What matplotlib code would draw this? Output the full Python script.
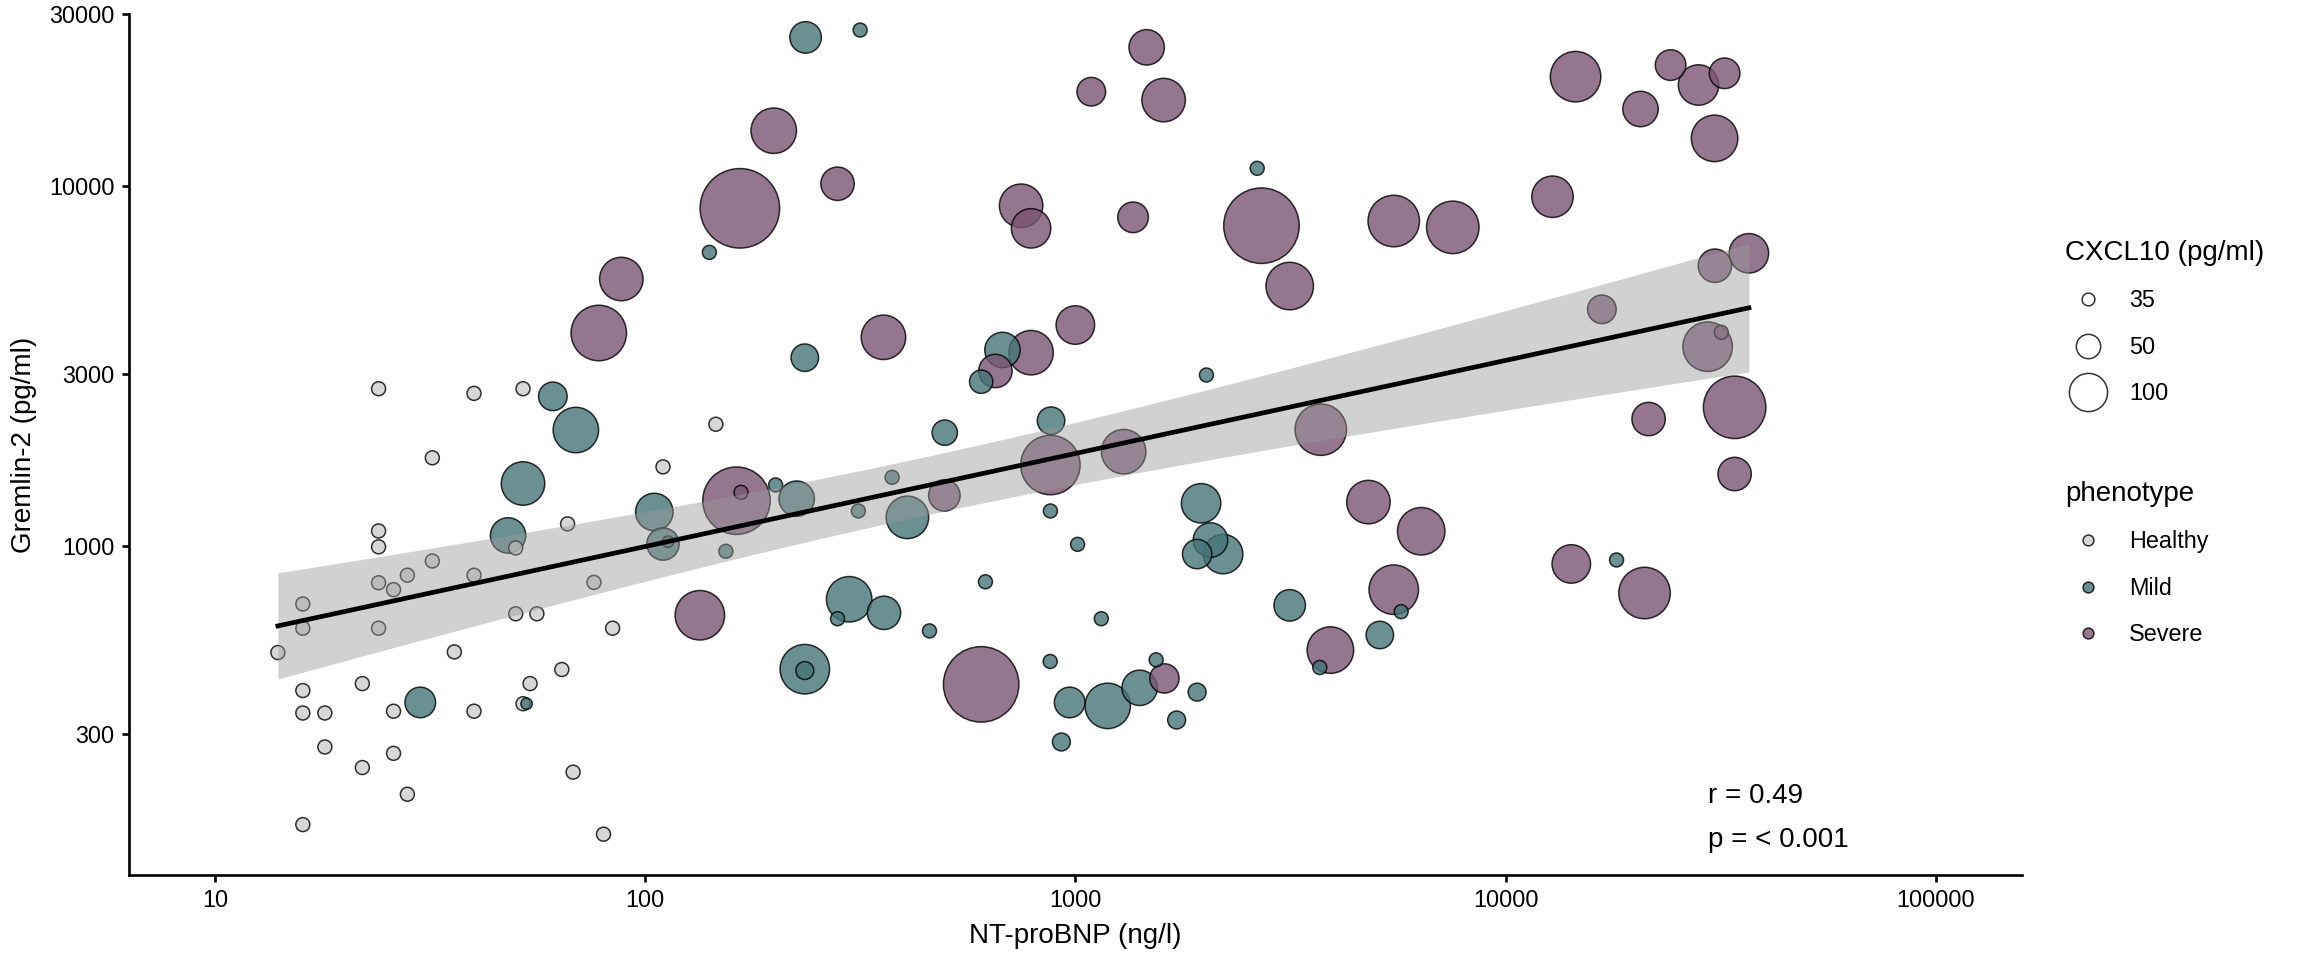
import numpy as np
import matplotlib.pyplot as plt
from matplotlib.lines import Line2D
from matplotlib.ticker import NullLocator

plt.rcParams['font.family'] = ['Liberation Sans', 'DejaVu Sans']

DPI = 100
EDGE_W = 1.1

# NT-proBNP (ng/l), Gremlin-2 (pg/ml) and CXCL10 (pg/ml) per phenotype
healthy_ntprobnp = [24, 40, 52, 32, 66, 24, 24, 50, 32, 28, 40, 24, 26, 16, 76, 16, 24, 50, 56, 84,
                    14, 36, 64, 16, 22, 54, 16, 18, 26, 40, 52, 18, 26, 22, 68, 28, 16, 80, 146, 110]
healthy_gremlin2 = [2730, 2650, 2730, 1755, 1150, 1099, 993, 986, 907, 828, 828, 789, 755, 689, 791, 590, 590, 647, 647, 590,
                    505, 507, 453, 396, 414, 414, 343, 343, 347, 347, 364, 276, 265, 242, 235, 204, 168, 158, 2175, 1656]
healthy_cxcl10 = [36] * len(healthy_ntprobnp)

mild_ntprobnp = [61, 69, 52, 48, 30, 53, 236, 316, 141, 235, 677, 604, 497, 878, 2647, 2017,
                 105, 110, 113, 201, 225, 375, 313, 154, 407, 875, 1012, 298, 280, 359, 458, 618, 1149,
                 235, 235, 874, 970, 1189, 928, 1960, 2061, 1919, 2206, 5720, 3150, 5103, 3700, 1541,
                 1411, 1919, 1720, 18120]
mild_gremlin2 = [2600, 2096, 1489, 1068, 367, 364, 25830, 27070, 6531, 3329, 3498, 2855, 2061, 2225, 11180, 2980,
                 1241, 1011, 1026, 1475, 1351, 1549, 1249, 965, 1199, 1249, 1009, 710, 627, 651, 580, 794, 627,
                 454, 450, 477, 367, 359, 285, 1312, 1037, 948, 948, 656, 683, 565, 459, 482,
                 403, 392, 328, 913]
mild_cxcl10 = [60, 162, 141, 85, 66, 34, 69, 36, 36, 57, 85, 48, 52, 57, 36, 36,
               96, 72, 34, 36, 85, 36, 36, 36, 132, 36, 36, 162, 36, 76, 36, 36, 36,
               219, 40, 36, 66, 162, 40, 108, 81, 62, 108, 36, 69, 57, 36, 36,
               85, 40, 40, 36]

severe_ntprobnp = [1089, 199, 166, 280, 88, 78, 358, 748, 789, 1000, 789, 652, 1465, 1604, 1362, 2708,
                   3150, 5498, 7541, 12860, 14550, 24200, 28100, 32310, 20600, 30620, 36800, 30670, 16750,
                   29500, 31740, 21510, 34090, 3720, 163, 167, 496, 875, 134, 604, 1295, 4801, 6368,
                   14220, 5498, 3917, 1611, 34090, 21050]
severe_gremlin2 = [18250, 14220, 8656, 10130, 5507, 3899, 3793, 8800, 7615, 4103, 3438, 3058, 24240, 17300, 8173, 7745,
                   5265, 7980, 7664, 9322, 20090, 21640, 19050, 20530, 16340, 13540, 6493, 5996, 4537,
                   3572, 3916, 2249, 2424, 2101, 1334, 1407, 1380, 1676, 641, 412, 1825, 1322, 1097,
                   890, 755, 513, 428, 1582, 739]
severe_cxcl10 = [60, 162, 4530, 76, 141, 360, 151, 141, 108, 102, 151, 76, 85, 141, 66, 2794,
                 188, 257, 279, 123, 237, 66, 115, 66, 85, 175, 108, 76, 60,
                 219, 36, 76, 687, 257, 1143, 36, 69, 516, 219, 2794, 151, 141, 188,
                 102, 219, 175, 62, 76, 257]

phenotypes = ['Healthy', 'Mild', 'Severe']
colors = {'Healthy': '#CDCDCD', 'Mild': '#457477', 'Severe': '#795473'}


def marker_area(v):
    # circle area grows linearly with log10(CXCL10), matched to the legend keys
    area_px = -4444 + 3010 * np.log10(np.asarray(v, dtype=float))
    d_pt = np.sqrt(np.clip(area_px, 80, None)) * 72 / DPI - EDGE_W
    return d_pt ** 2


x_all = np.array(healthy_ntprobnp + mild_ntprobnp + severe_ntprobnp, dtype=float)
y_all = np.array(healthy_gremlin2 + mild_gremlin2 + severe_gremlin2, dtype=float)
c_all = np.array(healthy_cxcl10 + mild_cxcl10 + severe_cxcl10, dtype=float)
groups = (['Healthy'] * len(healthy_ntprobnp) + ['Mild'] * len(mild_ntprobnp)
          + ['Severe'] * len(severe_ntprobnp))

fig = plt.figure(figsize=(23.04, 9.6), dpi=DPI)
ax = fig.add_axes([129 / 2304, 1 - 875 / 960, (2021.7 - 129) / 2304, (875 - 14) / 960])

# big circles first so the small ones stay visible
order = np.argsort(-c_all, kind='stable')
ax.scatter(x_all[order], y_all[order], s=marker_area(c_all[order]),
           c=[colors[groups[i]] for i in order], edgecolors='black',
           linewidths=EDGE_W, alpha=0.8, zorder=2)

# linear fit on log-log scale with 95% confidence band
lx, ly = np.log10(x_all), np.log10(y_all)
n = len(lx)
slope, intercept = np.polyfit(lx, ly, 1)
resid = ly - (intercept + slope * lx)
s_err = np.sqrt(np.sum(resid ** 2) / (n - 2))
grid = np.linspace(lx.min(), lx.max(), 100)
fit = intercept + slope * grid
se = s_err * np.sqrt(1 / n + (grid - lx.mean()) ** 2 / np.sum((lx - lx.mean()) ** 2))
t = 1.979
ax.fill_between(10 ** grid, 10 ** (fit - t * se), 10 ** (fit + t * se),
                color='#999999', alpha=0.45, lw=0, zorder=3)
ax.plot(10 ** grid, 10 ** fit, color='black', lw=3.4, zorder=4)

ax.set_xscale('log')
ax.set_yscale('log')
ax.set_xlim(10 ** 0.8, 10 ** 5.2)
ax.set_ylim(121.7, 30000)
xt = [10, 100, 1000, 10000, 100000]
yt = [300, 1000, 3000, 10000, 30000]
ax.set_xticks(xt)
ax.set_xticklabels([str(v) for v in xt])
ax.set_yticks(yt)
ax.set_yticklabels([str(v) for v in yt])
ax.xaxis.set_minor_locator(NullLocator())
ax.yaxis.set_minor_locator(NullLocator())

for side in ['top', 'right']:
    ax.spines[side].set_visible(False)
for side in ['left', 'bottom']:
    ax.spines[side].set_linewidth(1.9)
ax.tick_params(axis='both', labelsize=16.8, width=1.9, length=5, colors='black')
ax.tick_params(axis='x', pad=5)
ax.tick_params(axis='y', pad=5.4)

ax.set_xlabel('NT-proBNP (ng/l)', fontsize=20, labelpad=8)
ax.set_ylabel('Gremlin-2 (pg/ml)', fontsize=20, labelpad=9)

ax.text(0.834, 0.092, 'r = 0.49', transform=ax.transAxes, fontsize=20, va='center', ha='left')
ax.text(0.834, 0.041, 'p = < 0.001', transform=ax.transAxes, fontsize=20, va='center', ha='left')

# legends
size_keys = [35, 50, 100]
size_handles = [Line2D([], [], ls='none', marker='o', markersize=np.sqrt(marker_area(v)),
                       markerfacecolor='white', markeredgecolor='#333333', markeredgewidth=EDGE_W)
                for v in size_keys]
fig.legend(size_handles, [str(v) for v in size_keys], title='CXCL10 (pg/ml)',
           loc='upper left', bbox_to_anchor=(2065 / 2304, 1 - 240 / 960), frameon=False,
           fontsize=16.8, title_fontsize=20, borderpad=0, borderaxespad=0,
           handlelength=2.0, handletextpad=0.75, labelspacing=1.0, alignment='left')

pheno_handles = [Line2D([], [], ls='none', marker='o', markersize=7.8,
                        markerfacecolor=colors[p], markeredgecolor='black', alpha=0.8,
                        markeredgewidth=EDGE_W) for p in phenotypes]
fig.legend(pheno_handles, phenotypes, title='phenotype',
           loc='upper left', bbox_to_anchor=(2065 / 2304, 1 - 481 / 960), frameon=False,
           fontsize=16.8, title_fontsize=20, borderpad=0, borderaxespad=0,
           handlelength=2.0, handletextpad=0.75, labelspacing=1.0, alignment='left')

fig.savefig('out.png', dpi=DPI)
